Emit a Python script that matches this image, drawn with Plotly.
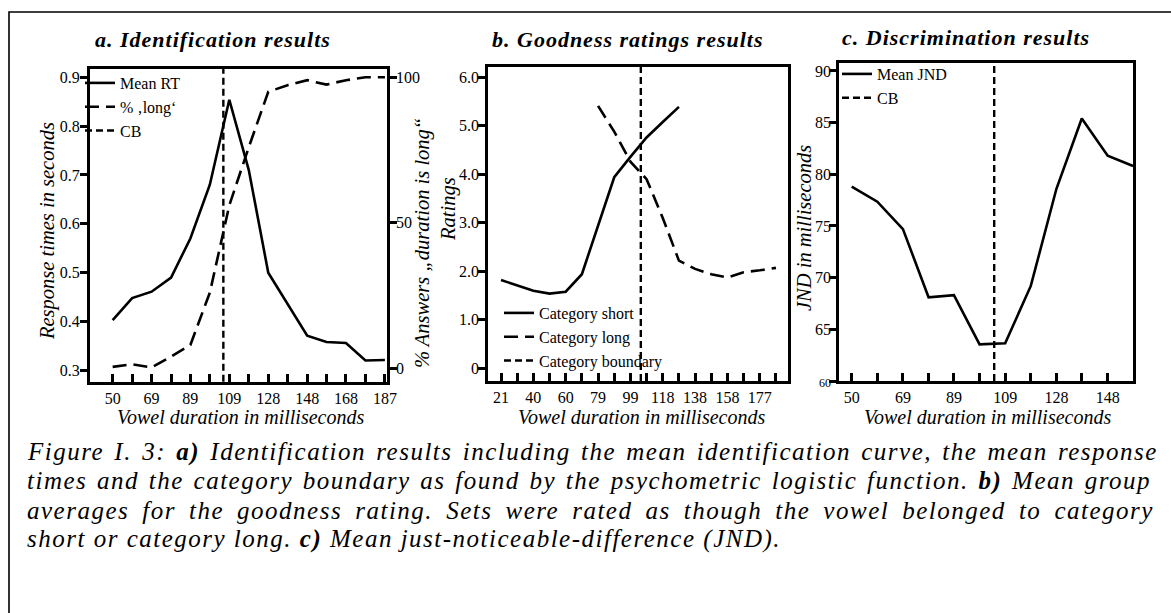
import plotly.graph_objects as go

W, H = 1171, 613
SERIF = "Liberation Serif"

# ---- a. identification ----
dur_a = [50, 59.8, 69.6, 79.4, 89.1, 98.9, 108.7, 118.5, 128.3, 138.0, 147.9, 157.6, 167.4, 177.2, 187.0]
ticks_a = ["50", "", "69", "", "89", "", "109", "", "128", "", "148", "", "168", "", "187"]
mean_rt = [0.403, 0.448, 0.461, 0.490, 0.570, 0.680, 0.854, 0.710, 0.500, 0.435, 0.371, 0.358, 0.356, 0.320, 0.321]
pct_long = [0.5, 1.4, 0.3, 4.0, 8.0, 26.0, 56.0, 76.0, 95.0, 97.3, 99.0, 97.5, 99.0, 100.0, 100.0]
cb_a = 105.7

# ---- b. goodness ratings ----
dur_b = [21, 30.8, 40.6, 50.4, 60.2, 70.0, 79.8, 89.6, 99.4, 109.2, 119.0, 128.8,
         138.6, 148.4, 158.2, 168.0, 177.8, 187.6]
ticks_b = ["21", "", "40", "", "60", "", "79", "", "99", "", "118", "", "138", "", "158", "", "177", ""]
rating_short = [1.82, 1.71, 1.60, 1.54, 1.58, 1.94, 2.95, 3.94, 4.36, 4.76, 5.08, 5.39]   # dur_b[0:12]
rating_long = [5.41, 4.88, 4.26, 3.90, 3.10, 2.22, 2.05, 1.94, 1.87, 1.98, 2.02, 2.07]    # dur_b[6:18]
cb_b = 105.7

# ---- c. discrimination ----
dur_c = [50, 59.8, 69.6, 79.4, 89.1, 98.9, 108.7, 118.5, 128.3, 138.0, 147.9, 157.6]
ticks_c = ["50", "", "69", "", "89", "", "109", "", "128", "", "148", ""]
mean_jnd = [78.8, 77.35, 74.7, 68.1, 68.3, 63.55, 63.65, 69.2, 78.6, 85.4, 81.8, 80.8]
cb_c = 104.5

caption = [
    "Figure I. 3: <b>a)</b> Identification results including the mean identification curve, the mean response",
    "times and the category boundary as found by the psychometric logistic function. <b>b)</b> Mean group",
    "averages for the goodness rating. Sets were rated as though the vowel belonged to category",
    "short or category long. <b>c)</b> Mean just-noticeable-difference (JND).",
]
caption_wordspace = [2.5, 2.0, 5.3, 0]   # justified look of the original


def px(x):
    return x / W


def py(y):
    return 1 - y / H


solid = dict(color="black", width=2.6)
longdash = dict(color="black", width=2.6, dash="14px,7px")
cbdash = dict(color="black", width=2.4, dash="7px,4px")

fig = go.Figure()
fig.add_trace(go.Scatter(x=dur_a, y=mean_rt, mode="lines", line=solid, name="Mean RT",
                         xaxis="x", yaxis="y", legend="legend"))
fig.add_trace(go.Scatter(x=dur_a, y=pct_long, mode="lines", line=longdash, name="% \u201along\u2018",
                         xaxis="x", yaxis="y2", legend="legend"))
fig.add_trace(go.Scatter(x=dur_b[:12], y=rating_short, mode="lines", line=solid, name="Category short",
                         xaxis="x2", yaxis="y3", legend="legend2"))
fig.add_trace(go.Scatter(x=dur_b[6:], y=rating_long, mode="lines", line=longdash, name="Category long",
                         xaxis="x2", yaxis="y3", legend="legend2"))
fig.add_trace(go.Scatter(x=dur_c, y=mean_jnd, mode="lines", line=solid, name="Mean JND",
                         xaxis="x3", yaxis="y4", legend="legend3"))

# category boundaries
for cb, xr, yr, nm, lg in [(cb_a, "x", "y", "CB", "legend"),
                           (cb_b, "x2", "y3", "Category boundary", "legend2"),
                           (cb_c, "x3", "y4", "CB", "legend3")]:
    fig.add_shape(type="line", xref=xr, yref=yr + " domain", x0=cb, x1=cb, y0=0, y1=1,
                  line=cbdash, showlegend=True, name=nm, legend=lg)

# outer frame
fig.add_shape(type="rect", xref="paper", yref="paper", x0=px(9), x1=px(1190), y0=py(12), y1=py(640),
              line=dict(color="black", width=1.6), layer="below")

tickfont = dict(family=SERIF, size=16, color="black")
ax = dict(showline=True, linewidth=3, linecolor="black", showgrid=False, zeroline=False,
          tickfont=tickfont, tickcolor="black", tickwidth=2.5, fixedrange=True, automargin=False)

fig.update_layout(
    template="none",
    width=W, height=H, margin=dict(l=0, r=0, t=0, b=0, autoexpand=False),
    paper_bgcolor="white", plot_bgcolor="white",
    font=dict(family=SERIF, color="black"),
    xaxis=dict(ax, domain=[px(90), px(386.7)], range=[38.6, 187.9], anchor="y",
               tickmode="array", tickvals=dur_a, ticktext=ticks_a, ticks="inside", ticklen=8, mirror=True),
    yaxis=dict(ax, domain=[py(381.7), py(69)], range=[0.2767, 0.917], anchor="x",
               tickmode="array", tickvals=[0.3, 0.4, 0.5, 0.6, 0.7, 0.8, 0.9], ticks="outside", ticklen=7,
               ticklabelstandoff=-3),
    yaxis2=dict(ax, overlaying="y", side="right", anchor="x", range=[-4.6, 102.85],
                tickmode="array", tickvals=[0, 50, 100], ticks="outside", ticklen=7, ticklabelstandoff=-4),
    xaxis2=dict(ax, domain=[px(488.3), px(787.7)], range=[13.3, 194.7], anchor="y3",
                tickmode="array", tickvals=dur_b, ticktext=ticks_b, ticks="inside", ticklen=8, mirror=True),
    yaxis3=dict(ax, domain=[py(381), py(66.7)], range=[-0.262, 6.219], anchor="x2",
                tickmode="array", tickvals=[0, 1, 2, 3, 4, 5, 6],
                ticktext=["0", "1.0", "2.0", "3.0", "4.0", "5.0", "6.0"],
                ticks="outside", ticklen=7, mirror=True, ticklabelstandoff=-4),
    xaxis3=dict(ax, domain=[px(839.3), px(1133.3)], range=[45.26, 157.7], anchor="y4",
                tickmode="array", tickvals=dur_c[:11], ticktext=ticks_c[:11], ticks="inside", ticklen=8,
                mirror=True),
    yaxis4=dict(ax, domain=[py(381), py(62.7)], range=[60, 90.8], anchor="x3",
                tickmode="array", tickvals=[60, 65, 70, 75, 80, 85, 90],
                ticktext=["<span style='font-size:12px'>60</span>", "65", "70", "75", "80", "85", "90"],
                ticks="outside", ticklen=7, mirror=True, ticklabelstandoff=-5),
    legend=dict(x=px(80), y=py(66), xanchor="left", yanchor="top", bgcolor="rgba(0,0,0,0)",
                font=dict(family=SERIF, size=16), tracegroupgap=0),
    legend2=dict(x=px(499), y=py(296), xanchor="left", yanchor="top", bgcolor="rgba(0,0,0,0)",
                 font=dict(family=SERIF, size=16), tracegroupgap=0),
    legend3=dict(x=px(837), y=py(57), xanchor="left", yanchor="top", bgcolor="rgba(0,0,0,0)",
                 font=dict(family=SERIF, size=16), tracegroupgap=0),
)


def note(text, x, y, size, angle=0, xanchor="center", spacing=None):
    if spacing:
        text = "<span style='%s'>%s</span>" % (spacing, text)
    fig.add_annotation(text=text, x=px(x), y=py(y), xref="paper", yref="paper", showarrow=False,
                       xanchor=xanchor, yanchor="middle", textangle=angle,
                       font=dict(family=SERIF, size=size, color="black"))


# panel titles
title_sp = "letter-spacing:1px"
note("<b><i>a. Identification results</i></b>", 212.5, 39, 22, spacing=title_sp)
note("<b><i>b. Goodness ratings results</i></b>", 628, 39, 22, spacing=title_sp)
note("<b><i>c. Discrimination results</i></b>", 966, 38, 22, spacing=title_sp)

# axis titles
for cx in (240, 641, 987):
    note("<i>Vowel duration in milliseconds</i>", cx, 417, 20)
note("<i>Response times in seconds</i>", 47, 231, 20.5, angle=-90)
note("<i>% Answers \u201eduration is long\u201c</i>", 422, 243, 20.5, angle=-90)
note("<i>Ratings</i>", 449, 209, 20.5, angle=-90)
note("<i>JND in milliseconds</i>", 804, 228, 20.5, angle=-90)

# caption
for i, line in enumerate(caption):
    note("<i>" + line + "</i>", 25, 452 + 29 * i, 25, xanchor="left",
         spacing="letter-spacing:1.5px;word-spacing:%gpx" % caption_wordspace[i])

fig.write_html("out.html", config={"displayModeBar": False},
               post_script="document.body.style.margin='0px';")
